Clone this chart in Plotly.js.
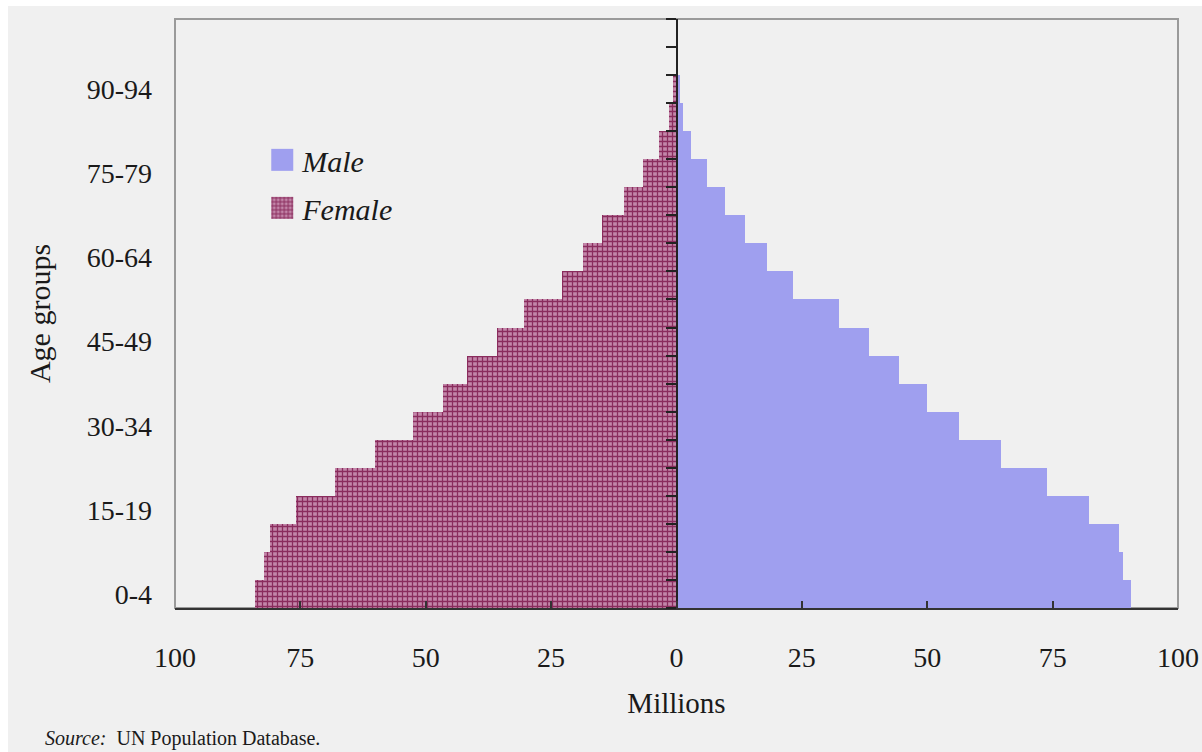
<!DOCTYPE html>
<html>
<head>
<meta charset="utf-8">
<script src="https://cdn.plot.ly/plotly-3.0.1.min.js"></script>
<style>
  html, body { margin: 0; padding: 0; background: #ffffff; }
  #chart { position: absolute; left: 8px; top: 6px; width: 1194px; height: 746px; }
</style>
</head>
<body>
<div id="chart"></div>
<script>
// Age groups (bottom to top)
const ageGroups = ["0-4","5-9","10-14","15-19","20-24","25-29","30-34","35-39","40-44","45-49",
                   "50-54","55-59","60-64","65-69","70-74","75-79","80-84","85-89","90-94","95-99","100+"];
// Millions
const maleValues   = [90.6, 89.0, 88.2, 82.3, 73.9, 64.7, 56.4, 50.0, 44.4, 38.4,
                      32.5, 23.3, 18.0, 13.7, 9.7, 6.1, 2.9, 1.3, 0.6, 0, 0];
const femaleValues = [84.1, 82.2, 81.0, 75.8, 68.1, 60.1, 52.5, 46.5, 41.7, 35.7,
                      30.5, 22.9, 18.6, 14.9, 10.5, 6.6, 3.4, 1.4, 0.7, 0, 0];
const shownAgeLabels = ["0-4","15-19","30-34","45-49","60-64","75-79","90-94"];
const xTickValues = [-100, -75, -50, -25, 0, 25, 50, 75, 100];
const xTickText   = ["100","75","50","25","0","25","50","75","100"];

const idx = ageGroups.map((_, i) => i);
const shownIdx = shownAgeLabels.map(l => ageGroups.indexOf(l));
const boundaries = [];
for (let i = 0; i <= ageGroups.length; i++) boundaries.push(i - 0.5);

const FONT = "Liberation Serif, Times New Roman, serif";

const male = {
  type: "bar", orientation: "h", name: "Male",
  y: idx, x: maleValues, width: 1,
  marker: { color: "#9f9fef", line: { width: 0 } },
  legendgroup: "m", hoverinfo: "x+name"
};
const female = {
  type: "bar", orientation: "h", name: "Female",
  y: idx, x: femaleValues.map(v => -v), width: 1,
  marker: {
    color: "#c185a8",
    line: { width: 0 },
    pattern: { shape: "+", fgcolor: "#8a2c5d", bgcolor: "#c386a9", size: 5, solidity: 0.45, fillmode: "replace" }
  },
  legendgroup: "f", hoverinfo: "name"
};

const layout = {
  width: 1194, height: 746,
  margin: { l: 167, r: 24, t: 13, b: 144 },
  paper_bgcolor: "#f0f0f0", plot_bgcolor: "#f0f0f0",
  barmode: "overlay", bargap: 0,
  font: { family: FONT, color: "#1a1a1a", size: 28 },
  showlegend: true,
  legend: {
    x: 0.087, y: 0.805, xanchor: "left", yanchor: "top",
    bgcolor: "rgba(0,0,0,0)", traceorder: "grouped", tracegroupgap: 6,
    font: { family: FONT, size: 30, style: "italic", color: "#1a1a1a" }
  },
  xaxis: {
    range: [-100, 100], tickvals: xTickValues, ticktext: xTickText,
    ticks: "inside", ticklen: 7, tickwidth: 2, tickcolor: "#333",
    showline: true, linecolor: "#333", linewidth: 2,
    showgrid: false, zeroline: false, fixedrange: true,
    ticklabelstandoff: 23, ticklabeloverflow: "allow",
    tickfont: { family: FONT, size: 28, color: "#1a1a1a" },
    title: { text: "Millions", font: { family: FONT, size: 29, color: "#1a1a1a" }, standoff: 21 }
  },
  yaxis: {
    range: [-0.5, 20.5], tickvals: shownIdx, ticktext: shownAgeLabels,
    ticks: "", showline: false, showgrid: false, zeroline: false, fixedrange: true,
    ticklabelstandoff: 22,
    tickfont: { family: FONT, size: 28, color: "#1a1a1a" },
    title: { text: "Age groups", font: { family: FONT, size: 30, color: "#1a1a1a" }, standoff: 27 }
  },
  yaxis2: {
    overlaying: "y", anchor: "free", position: 0.5, side: "left",
    range: [-0.5, 20.5], tickvals: boundaries,
    ticks: "outside", ticklen: 10, tickwidth: 2, tickcolor: "#222",
    showline: true, linecolor: "#222", linewidth: 2,
    showticklabels: false, showgrid: false, zeroline: false, fixedrange: true
  },
  shapes: [
    { type: "rect", xref: "paper", yref: "paper", x0: 0, x1: 1, y0: 0, y1: 1,
      line: { color: "#9a9a9a", width: 2 }, layer: "below" }
  ],
  annotations: [
    { xref: "paper", yref: "paper", x: -0.1316, y: -0.221, xanchor: "left", yanchor: "middle",
      showarrow: false, text: "<i>Source:</i>\u00a0\u00a0UN Population Database.",
      font: { family: FONT, size: 20, color: "#1a1a1a" } }
  ]
};

// invisible helper trace so the tick-only axis y2 is drawn
const helper = { type: "scatter", x: [0], y: [0], yaxis: "y2", mode: "markers",
  marker: { opacity: 0 }, showlegend: false, hoverinfo: "skip" };

Plotly.newPlot("chart", [male, female, helper], layout, { displayModeBar: false, staticPlot: true }).then(gd => {
  // enlarge legend swatches to 22px squares just left of the legend text
  gd.querySelectorAll(".legend [clip-path]").forEach(el => el.removeAttribute("clip-path"));
  gd.querySelectorAll(".legend .legendpoints path").forEach(p => {
    p.setAttribute("d", "M31,11H9V-11H31Z");
    p.removeAttribute("transform");
  });
});
</script>
</body>
</html>
